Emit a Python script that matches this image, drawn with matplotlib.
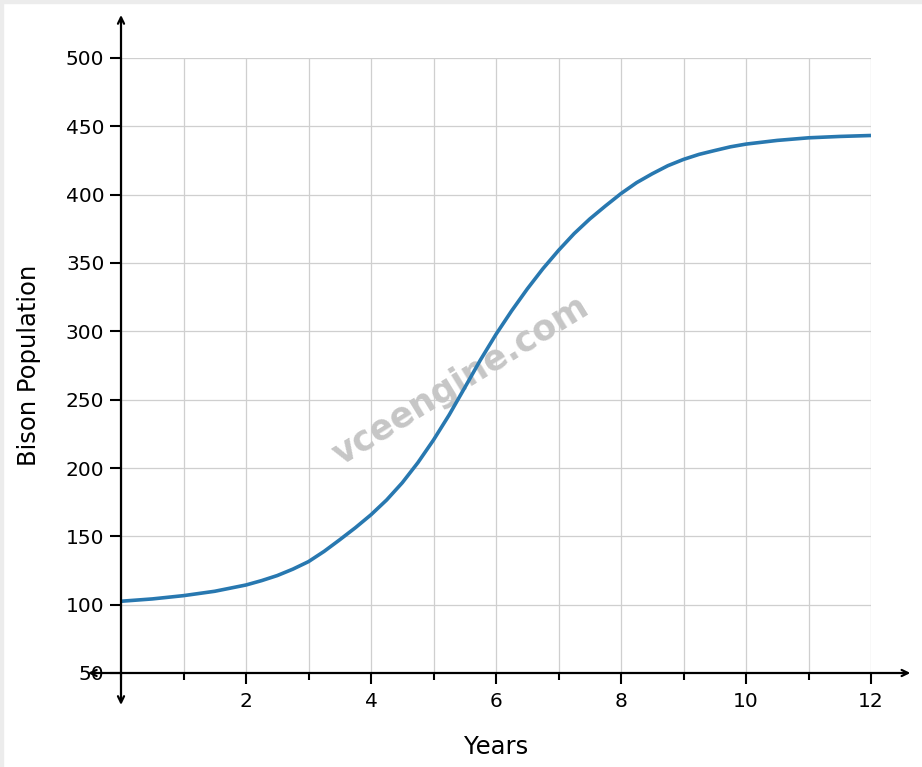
import matplotlib
matplotlib.use("Agg")
import matplotlib.pyplot as plt
from matplotlib.ticker import MultipleLocator

years = [0, 0.5, 1, 1.5, 2, 2.25, 2.5, 2.75, 3, 3.25, 3.5, 3.75, 4, 4.25, 4.5,
         4.75, 5, 5.25, 5.5, 5.75, 6, 6.25, 6.5, 6.75, 7, 7.25, 7.5, 7.75, 8,
         8.25, 8.5, 8.75, 9, 9.25, 9.5, 9.75, 10, 10.5, 11, 11.5, 12]
population = [102.5, 104.2, 106.6, 109.8, 114.4, 117.6, 121.3, 126.0, 131.5,
              139.0, 147.5, 156.3, 165.8, 176.6, 189.2, 203.9, 220.5, 238.8,
              258.8, 279.0, 297.8, 315.0, 331.0, 345.8, 359.2, 371.5, 382.2,
              391.7, 400.8, 408.8, 415.3, 421.2, 425.8, 429.5, 432.3, 435.0,
              437.0, 439.7, 441.6, 442.6, 443.3]
y_ticks = [50, 100, 150, 200, 250, 300, 350, 400, 450, 500]
x_ticks = [2, 4, 6, 8, 10, 12]

fig = plt.figure(figsize=(9.22, 7.67), dpi=100)
ax = fig.add_axes([121 / 922, 1 - 673 / 767, 750 / 922, 615 / 767])

ax.set_xlim(0, 12)
ax.set_ylim(50, 500)

for s in ax.spines.values():
    s.set_visible(False)

ax.xaxis.set_major_locator(MultipleLocator(2))
ax.xaxis.set_minor_locator(MultipleLocator(1))
ax.set_xticks(x_ticks)
ax.set_yticks(y_ticks)
ax.tick_params(axis='both', which='major', labelsize=14.5, length=8, width=1.5,
               direction='out', colors='black')
ax.tick_params(axis='x', which='minor', length=5, width=1.5)
ax.tick_params(axis='x', which='major', pad=6)
ax.tick_params(axis='y', which='major', pad=4)

ax.grid(True, which='both', axis='x', color='#cfcfcf', linewidth=0.9)
ax.grid(True, which='major', axis='y', color='#cfcfcf', linewidth=0.9)
ax.set_axisbelow(True)

# watermark
ax.text(5.44, 264, 'vceengine.com', fontsize=25, fontweight='bold',
        color='#c6c6c6', rotation=31.5, ha='center', va='center', zorder=1.5)

ax.plot(years, population, color='#2878b0', linewidth=2.6, zorder=3,
        solid_capstyle='butt', solid_joinstyle='round')

# axis arrows
arrow_kw = dict(arrowstyle='<->,head_length=0.45,head_width=0.22',
                color='black', lw=1.6, shrinkA=0, shrinkB=0)
ax.annotate('', xy=(12.63, 50), xytext=(-0.53, 50),
            arrowprops=arrow_kw, annotation_clip=False, zorder=4)
ax.annotate('', xy=(0, 531.5), xytext=(0, 26.6),
            arrowprops=arrow_kw, annotation_clip=False, zorder=4)

ax.set_xlabel('Years', fontsize=17.5, labelpad=17)
ax.set_ylabel('Bison Population', fontsize=17.5, labelpad=18)

# light screenshot border strips
fig.patches.append(plt.Rectangle((0, 1 - 3 / 767), 1, 3 / 767,
                                 transform=fig.transFigure, color='#ececec', zorder=-1))
fig.patches.append(plt.Rectangle((0, 0), 3 / 922, 1,
                                 transform=fig.transFigure, color='#ececec', zorder=-1))

fig.savefig('out.png', dpi=100)
